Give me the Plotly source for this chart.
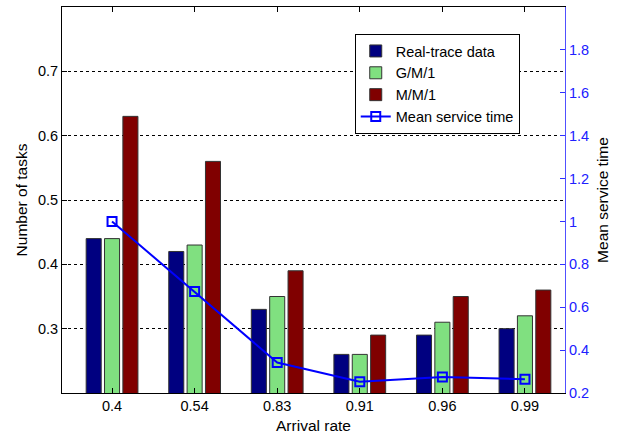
import plotly.graph_objects as go

categories = ["0.4", "0.54", "0.83", "0.91", "0.96", "0.99"]
real_trace = [0.44, 0.42, 0.33, 0.26, 0.29, 0.30]
gm1 = [0.44, 0.43, 0.35, 0.26, 0.31, 0.32]
mm1 = [0.63, 0.56, 0.39, 0.29, 0.35, 0.36]
mean_service = [1.0, 0.673, 0.342, 0.253, 0.275, 0.264]

xpos = list(range(1, len(categories) + 1))
FONT = "Arial, Liberation Sans, sans-serif"

fig = go.Figure()
fig.add_trace(go.Bar(x=xpos, y=real_trace, name="Real-trace data",
                     marker=dict(color="#000080", line=dict(color="#333333", width=1))))
fig.add_trace(go.Bar(x=xpos, y=gm1, name="G/M/1",
                     marker=dict(color="#80e080", line=dict(color="#333333", width=1))))
fig.add_trace(go.Bar(x=xpos, y=mm1, name="M/M/1",
                     marker=dict(color="#800000", line=dict(color="#333333", width=1))))
fig.add_trace(go.Scatter(x=xpos, y=mean_service, name="Mean service time", yaxis="y2",
                         mode="lines+markers",
                         line=dict(color="#0000ff", width=2),
                         marker=dict(symbol="square-open", size=9, color="#0000ff",
                                     line=dict(width=2, color="#0000ff"))))

fig.update_layout(
    width=626, height=436,
    margin=dict(l=62, r=61, t=7, b=43),
    paper_bgcolor="white", plot_bgcolor="white",
    font=dict(family=FONT, size=14, color="black"),
    barmode="group", bargap=0.333, bargroupgap=0.18,
    showlegend=True,
    legend=dict(x=0.582, y=0.93, xanchor="left", yanchor="top",
                bgcolor="white", bordercolor="black", borderwidth=1,
                font=dict(family=FONT, size=14.5, color="black"),
                traceorder="normal", tracegroupgap=0),
    xaxis=dict(
        range=[0.394, 6.485], tickmode="array", tickvals=xpos, ticktext=categories,
        showline=True, linecolor="black", linewidth=1, mirror="ticks",
        ticks="inside", ticklen=5, tickcolor="black", showgrid=False, zeroline=False,
        title=dict(text="Arrival rate", font=dict(size=15.5), standoff=6),
        tickfont=dict(size=14.5), automargin=False,
    ),
    yaxis=dict(
        range=[0.2, 0.8], tickmode="array", tickvals=[0.3, 0.4, 0.5, 0.6, 0.7],
        ticktext=["0.3", "0.4", "0.5", "0.6", "0.7"],
        showline=True, linecolor="black", linewidth=1,
        ticks="inside", ticklen=5, tickcolor="black",
        showgrid=True, gridcolor="black", gridwidth=1, griddash="3px,3px",
        zeroline=False,
        title=dict(text="Number of tasks", font=dict(size=15.5), standoff=6),
        tickfont=dict(size=14.5), automargin=False,
    ),
    yaxis2=dict(
        range=[0.2, 2.0], overlaying="y", side="right",
        tickmode="array", tickvals=[0.2, 0.4, 0.6, 0.8, 1.0, 1.2, 1.4, 1.6, 1.8],
        ticktext=["0.2", "0.4", "0.6", "0.8", "1", "1.2", "1.4", "1.6", "1.8"],
        showline=True, linecolor="#5050ff", linewidth=1,
        ticks="inside", ticklen=5, tickcolor="#3030ff",
        showgrid=False, zeroline=False, automargin=False,
        tickfont=dict(size=14.5, color="#2020ff"),
        title=dict(text="Mean service time", font=dict(size=15.5, color="black"), standoff=9),
    ),
)

fig.write_html("out.html")
